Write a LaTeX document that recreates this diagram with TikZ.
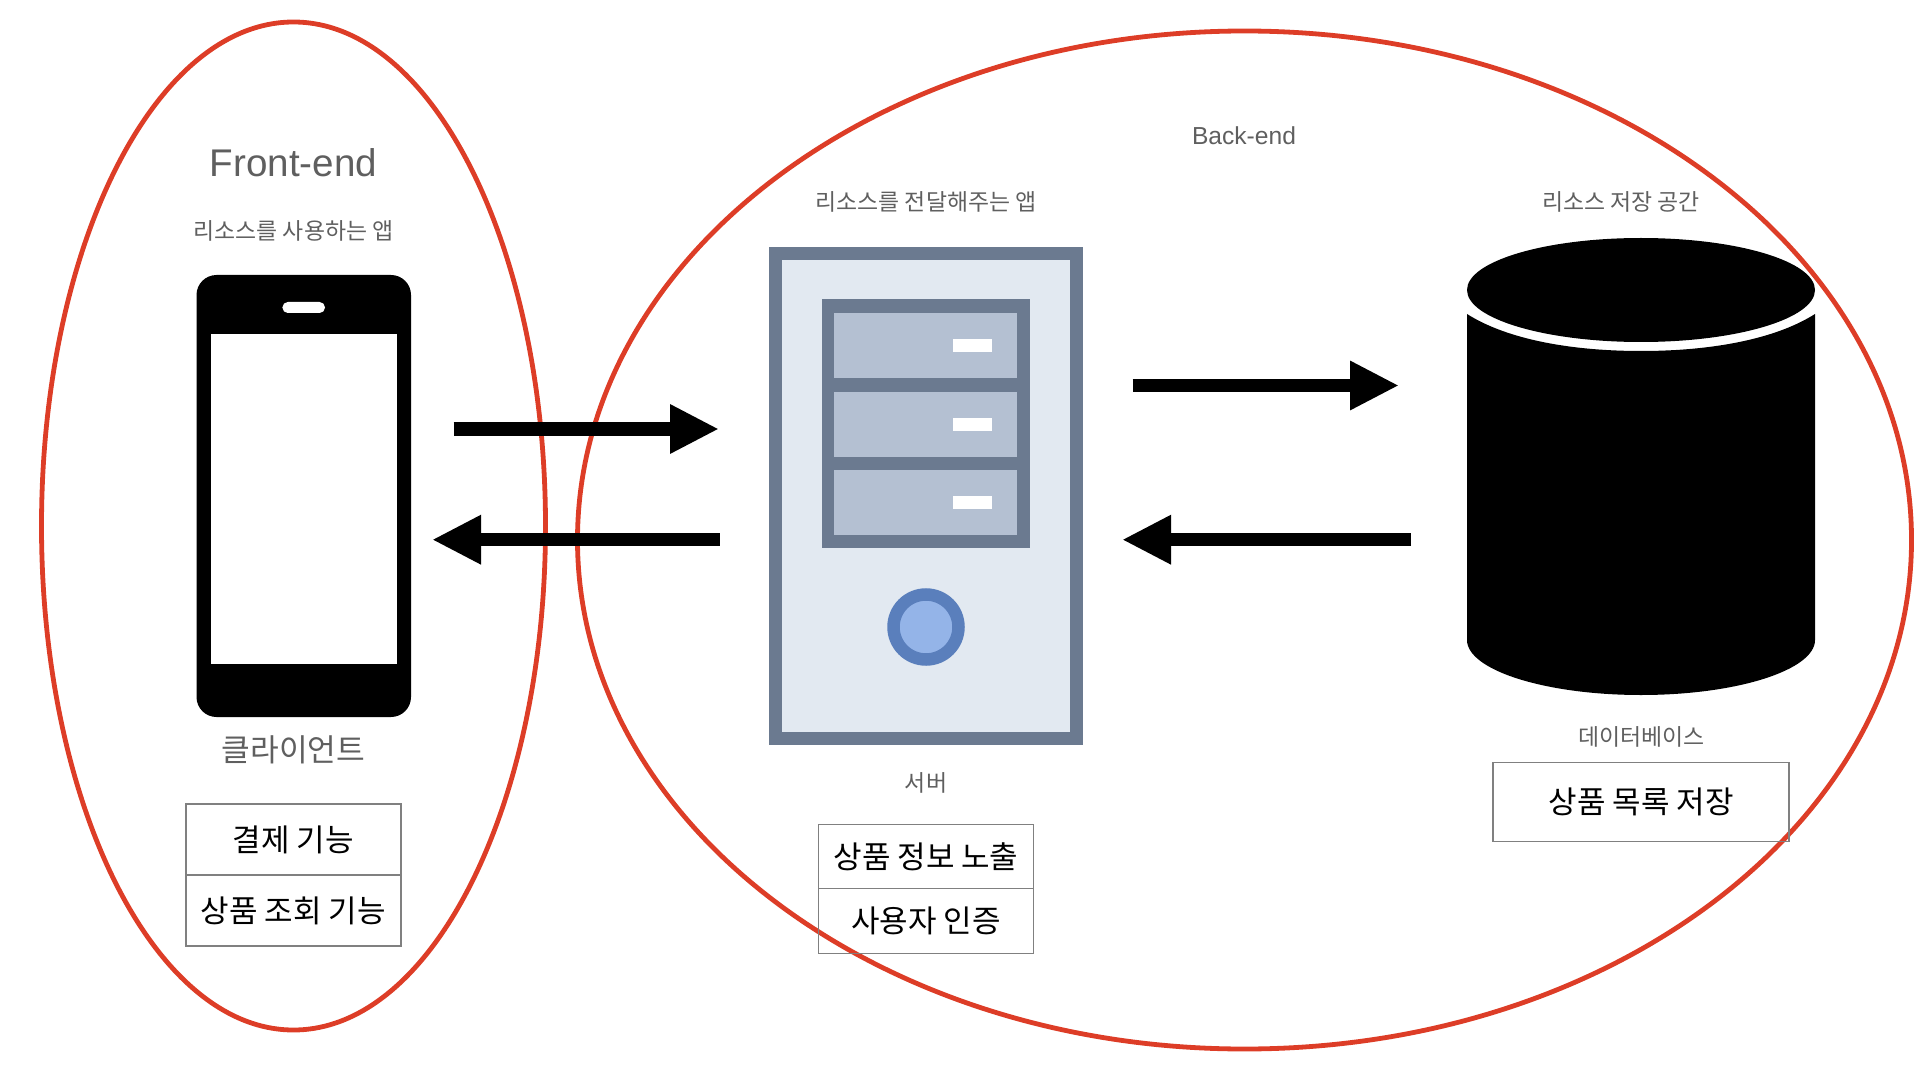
\documentclass[tikz,border=0pt]{standalone}
\usepackage{fontspec}
\usepackage{tikz}
\usetikzlibrary{positioning}
\usetikzlibrary{arrows.meta}
\setmainfont{Liberation Sans}
\newfontfamily\krfont{Noto Sans CJK KR}
\definecolor{ringred}{HTML}{DD3D27}
\definecolor{labelgray}{HTML}{5F5F5F}
\definecolor{boxgray}{HTML}{808080}
\definecolor{srvedge}{HTML}{6B7A90}
\definecolor{srvbody}{HTML}{E2E9F1}
\definecolor{srvslot}{HTML}{B4C0D2}
\definecolor{srvring}{HTML}{5A7FBC}
\definecolor{srvlamp}{HTML}{94B4E8}
\tikzset{
 groupring/.style={draw=ringred, line width=2.4pt},
 flowarrow/.style={line width=6.75pt, -{Triangle[length=24.5pt,width=23pt]}},
 caption/.style={text=labelgray, inner sep=0pt, font=\krfont\fontsize{11.45pt}{14pt}\selectfont},
 captionbig/.style={text=labelgray, inner sep=0pt, font=\krfont\fontsize{15.6pt}{18pt}\selectfont},
 featurebox/.style={draw=boxgray, line width=0.55pt, inner sep=0pt, outer sep=0pt, text=black,
  font=\krfont\fontsize{15.5pt}{18pt}\selectfont, minimum width=#1},
 srvbar/.style={fill=white}
}

\begin{document}
\begin{tikzpicture}[x=0.5pt,y=-0.5pt]
 \useasboundingbox (0,0) rectangle (1920,1080);

 % front-end and back-end groups
 \draw[groupring] (293.5,526) ellipse (252 and 504);
 \draw[groupring] (1244.5,540) ellipse (667 and 509);

 \node[text=labelgray, inner sep=0pt, font=\fontsize{19.3pt}{22pt}\selectfont] (frontTitle) at (293.5,162.5) {Front-end};
 \node[text=labelgray, inner sep=0pt, font=\fontsize{12.3pt}{15pt}\selectfont] (backTitle) at (1244,136) {Back-end};

 % phone
 \fill[black, rounded corners=10pt] (196.5,275) rectangle (411,717);
 \fill[white] (211,334.5) rectangle (397,664);
 \fill[white, rounded corners=2.7pt] (282.4,302) rectangle (325,313);

 % server
 \fill[srvedge] (769,247.5) rectangle (1083,744.5);
 \fill[srvbody] (782,260.5) rectangle (1070,731.5);
 \fill[srvedge] (821.5,299) rectangle (1030,548);
 \foreach \ytop/\ybot/\ybar in {313/378/338.6, 392/456.5/417.5, 470/535/495.7} {
  \fill[srvslot] (834,\ytop) rectangle (1017,\ybot);
  \fill[srvbar] (952.7,\ybar) rectangle (991.7,\ybar+13.2);
 }
 \draw[draw=srvring, fill=srvlamp, line width=6.25pt] (926,627) circle (32.5);

 % database
 \fill[black] (1467,314) .. controls (1508,340) and (1573,351) .. (1641,351)
  .. controls (1709,351) and (1774,340) .. (1815,314)
  -- (1815,640) .. controls (1815,670) and (1737,695) .. (1641,695)
  .. controls (1545,695) and (1467,670) .. (1467,640) -- cycle;
 \fill[black] (1641,290) ellipse (174 and 52);

 % captions
 \node[caption] (frontRole) at (293.5,230.5) {리소스를 사용하는 앱};
 \node[caption] (serverRole) at (926,202) {리소스를 전달해주는 앱};
 \node[caption] (dbRole) at (1621,202) {리소스 저장 공간};
 \node[captionbig] (clientName) at (293.5,750) {클라이언트};
 \node[caption] (serverName) at (926,783) {서버};
 \node[caption] (dbName) at (1641.5,736.5) {데이터베이스};

 % feature boxes
 \node[featurebox=107.5pt, minimum height=35.5pt] (payBox) at (293.5,839.5) {결제 기능};
 \node[featurebox=107.5pt, minimum height=35.5pt, below=0pt of payBox] (lookupBox) {상품 조회 기능};
 \node[featurebox=107.8pt, minimum height=32.3pt] (exposeBox) at (926,856.5) {상품 정보 노출};
 \node[featurebox=107.8pt, minimum height=32.3pt, below=0pt of exposeBox] (authBox) {사용자 인증};
 \node[featurebox=148pt, minimum height=39.7pt] (storeBox) at (1641,802) {상품 목록 저장};

 % arrows
 \coordinate (clientOut) at (453.5,429);
 \coordinate (serverIn) at (719,429);
 \coordinate (serverOut) at (719.7,539.7);
 \coordinate (clientIn) at (432,539.7);
 \coordinate (serverToDb) at (1132.7,385.5);
 \coordinate (dbIn) at (1399,385.5);
 \coordinate (dbOut) at (1411,539.7);
 \coordinate (serverBack) at (1122,539.7);

 \draw[flowarrow] (clientOut) -- (serverIn);
 \draw[flowarrow] (serverOut) -- (clientIn);
 \draw[flowarrow] (serverToDb) -- (dbIn);
 \draw[flowarrow] (dbOut) -- (serverBack);
\end{tikzpicture}
\end{document}
